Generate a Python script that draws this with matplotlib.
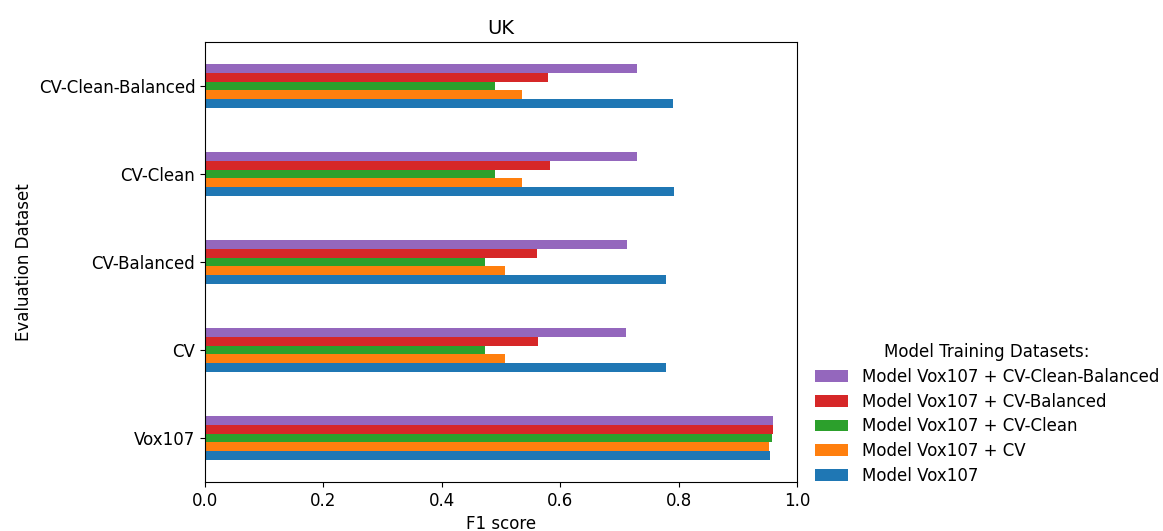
import matplotlib
matplotlib.use("Agg")
import matplotlib.pyplot as plt
import numpy as np

categories = ["Vox107", "CV", "CV-Balanced", "CV-Clean", "CV-Clean-Balanced"]
series_names = ["Model Vox107", "Model Vox107 + CV", "Model Vox107 + CV-Clean",
                "Model Vox107 + CV-Balanced", "Model Vox107 + CV-Clean-Balanced"]
vox107 = [0.955, 0.778, 0.778, 0.793, 0.791]
vox107_cv = [0.953, 0.506, 0.506, 0.535, 0.535]
vox107_cv_clean = [0.957, 0.473, 0.473, 0.490, 0.490]
vox107_cv_balanced = [0.960, 0.562, 0.561, 0.582, 0.579]
vox107_cv_clean_balanced = [0.960, 0.711, 0.712, 0.730, 0.729]
colors = ["#1f77b4", "#ff7f0e", "#2ca02c", "#d62728", "#9467bd"]

series = [vox107, vox107_cv, vox107_cv_clean, vox107_cv_balanced, vox107_cv_clean_balanced]

plt.rcParams['font.size'] = 12
fig = plt.figure(figsize=(11.63, 5.31), dpi=100)
ax = fig.add_axes([205 / 1163, 1 - 482 / 531, 592 / 1163, 440 / 531])

y = np.arange(len(categories))
n = len(series)
h = 0.5 / n
handles = []
for i, (vals, name, c) in enumerate(zip(series, series_names, colors)):
    offs = (i - (n - 1) / 2) * h
    b = ax.barh(y + offs, vals, height=h, color=c, label=name)
    handles.append(b)

ax.set_yticks(y)
ax.set_yticklabels(categories)
ax.set_ylim(-0.5, len(categories) - 0.5)
ax.set_xlim(0, 1.0)
ax.set_xticks([0.0, 0.2, 0.4, 0.6, 0.8, 1.0])
ax.tick_params(labelsize=12)
ax.set_xlabel("F1 score", fontsize=12)
ax.set_ylabel("Evaluation Dataset", fontsize=12)
ax.set_title("UK", fontsize=14)

ax.legend(handles[::-1], series_names[::-1], title="Model Training Datasets:",
          loc="lower left", bbox_to_anchor=(1.005, -0.04), frameon=False,
          fontsize=12, title_fontsize=12, labelspacing=0.4)

fig.savefig("out.png", dpi=100)
